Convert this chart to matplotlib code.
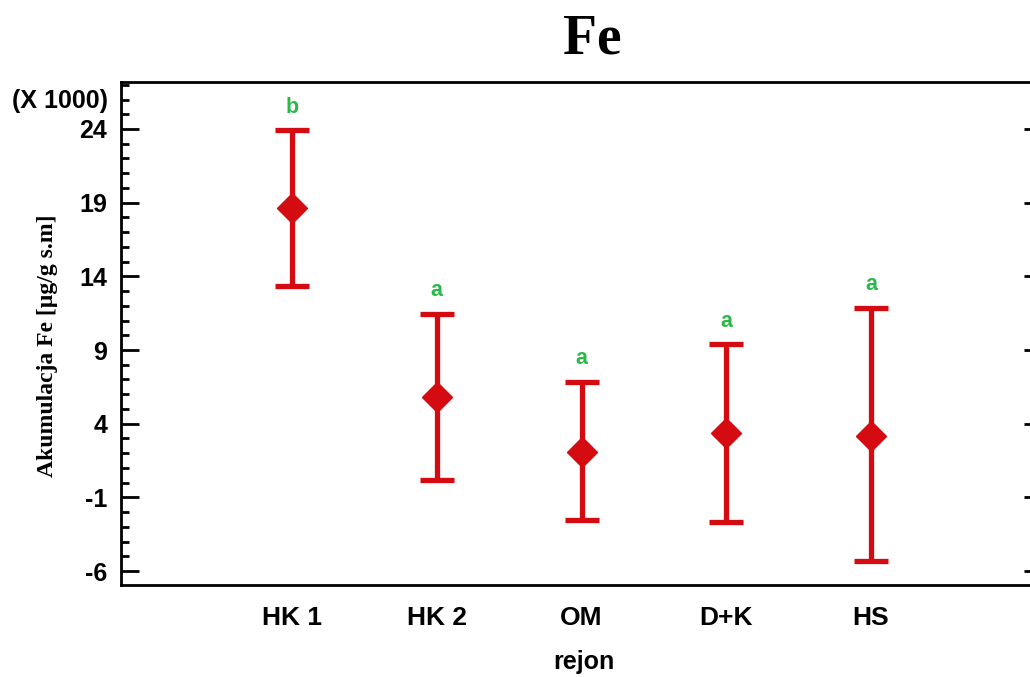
import matplotlib
matplotlib.use("Agg")
import matplotlib.pyplot as plt
import numpy as np
from matplotlib.ticker import MultipleLocator, FixedLocator

# Fe accumulation by region (values in thousands of µg/g dry mass)
regions = ["HK 1", "HK 2", "OM", "D+K", "HS"]
means = [18.65, 5.82, 2.09, 3.38, 3.17]
lower = [13.35, 0.19, -2.53, -2.66, -5.30]
upper = [23.90, 11.45, 6.84, 9.41, 11.86]
groups = ["b", "a", "a", "a", "a"]
yticks = [-6, -1, 4, 9, 14, 19, 24]

red = "#d40c12"
green = "#2bb84a"

plt.rcParams["axes.unicode_minus"] = False

fig = plt.figure(figsize=(10.30, 6.77), dpi=100)
ax = fig.add_axes([121 / 1030, 1 - 585 / 677, 910 / 1030, 503 / 677])

x = np.arange(len(regions))
m = np.array(means)
err = np.vstack([m - np.array(lower), np.array(upper) - m])
ax.errorbar(x, m, yerr=err, fmt="D", color=red, ecolor=red, elinewidth=3.8,
            capsize=12.5, capthick=3.8, markersize=15, markeredgecolor=red,
            zorder=3)

for xi, up, g in zip(x, upper, groups):
    ax.annotate(g, (xi, up), xytext=(0, 16.5), textcoords="offset points",
                ha="center", va="center", color=green, fontsize=15.5,
                fontweight="bold", family="Liberation Sans")

ax.set_xlim(-1.181, 5.105)
ax.set_ylim(-6.95, 27.19)
ax.set_xticks(x)
ax.set_xticklabels(regions)
ax.set_yticks(yticks)
ax.yaxis.set_minor_locator(MultipleLocator(1))

for lab in ax.get_xticklabels():
    lab.set_family("Liberation Sans")
    lab.set_fontweight("bold")
    lab.set_fontsize(19)
for lab in ax.get_yticklabels():
    lab.set_family("Liberation Sans")
    lab.set_fontweight("bold")
    lab.set_fontsize(18)

ax.tick_params(axis="x", length=0, pad=15)
ax.tick_params(axis="y", which="major", direction="in", length=13, width=2,
               right=False, pad=10)
ax.tick_params(axis="y", which="minor", direction="in", length=6, width=2,
               right=False)

# short inward ticks along the right edge
rax = ax.secondary_yaxis("right")
rax.yaxis.set_major_locator(FixedLocator(yticks))
rax.tick_params(direction="in", length=5, width=2, labelright=False)
rax.spines["right"].set_visible(False)

for s in ax.spines.values():
    s.set_linewidth(2)

fig.text(592 / 1030, 1 - 39 / 677, "Fe", ha="center", va="center",
         family="Liberation Serif", fontweight="bold", fontsize=40)
fig.text(108 / 1030, 1 - 101 / 677, "(X 1000)", ha="right", va="center",
         family="Liberation Sans", fontweight="bold", fontsize=18)
fig.text(48 / 1030, 1 - 346 / 677, "Akumulacja Fe [µg/g s.m]", rotation=90,
         ha="center", va="center", family="Liberation Serif",
         fontweight="bold", fontsize=17)
fig.text(584 / 1030, 1 - 662 / 677, "rejon", ha="center", va="center",
         family="Liberation Sans", fontweight="bold", fontsize=18)

fig.savefig("out.png", dpi=100)
